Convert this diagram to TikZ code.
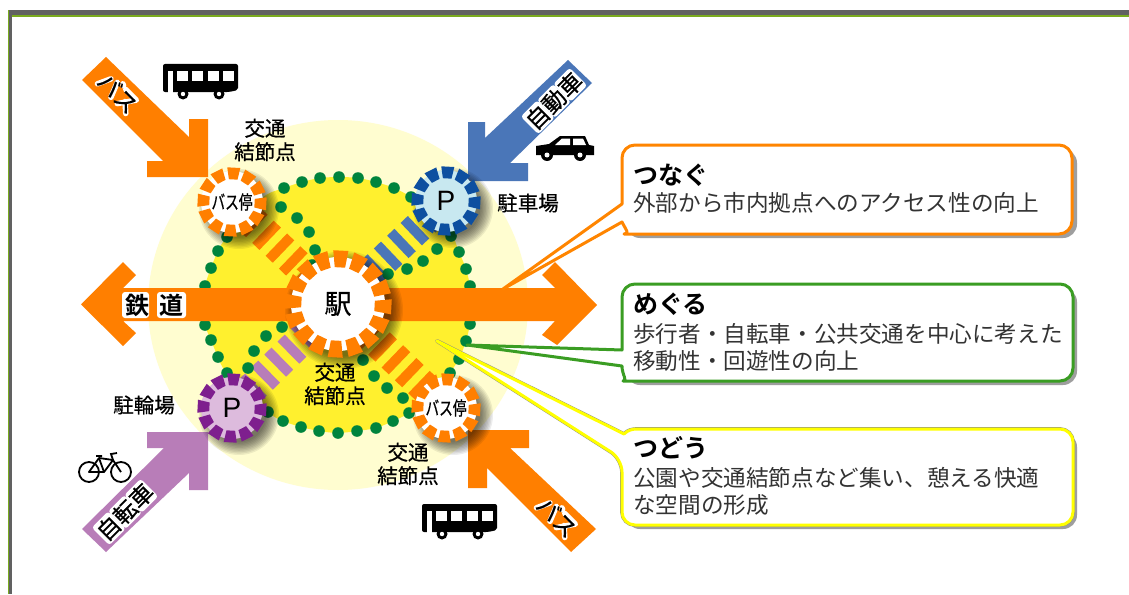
\documentclass[tikz,border=0pt]{standalone}
\usepackage{fontspec}
\setmainfont{Noto Sans CJK JP}
\newfontfamily\jpm[FakeBold=0.6]{Noto Sans CJK JP}
\newfontfamily\jpb{Noto Sans CJK JP Bold}
\newfontfamily\latin{Liberation Sans}
\usetikzlibrary{calc}
\definecolor{aorange}{HTML}{FF7F00}
\definecolor{ablue}{HTML}{4A76B8}
\definecolor{apurple}{HTML}{B87DB8}
\definecolor{dblue}{HTML}{0D4FA0}
\definecolor{dpurple}{HTML}{7E1F8E}
\definecolor{lblue}{HTML}{C8E8F0}
\definecolor{lpurple}{HTML}{DDBBDD}
\definecolor{agreen}{HTML}{00843D}
\definecolor{bgreen}{HTML}{3A9D23}
\definecolor{pale}{HTML}{FFFDD0}
\definecolor{blob}{HTML}{FFF02E}
\definecolor{cyel}{HTML}{FFFF00}
\definecolor{fgreen}{HTML}{7AAB1E}
\newcommand{\softshadow}[3]{% centre name, radius, offset
  \foreach \k in {0,...,9}{
    \fill[black,opacity=0.07] ($(#1)+(#3,#3)$) circle ({#2+7-1.4*\k});
  }}
\newcommand{\ring}[7]{% centre,Rin,Rout,count,colour,offset,half gap
  \pgfmathsetmacro{\stepa}{360/#4}
  \pgfmathsetmacro{\halfa}{\stepa/2-#7}
  \foreach \k in {1,...,#4}{
    \pgfmathsetmacro{\aa}{#6+\k*\stepa}
    \fill[#5] ($(#1)+(\aa-\halfa:#2)$) -- ($(#1)+(\aa-\halfa:#3)$) -- ($(#1)+(\aa+\halfa:#3)$) -- ($(#1)+(\aa+\halfa:#2)$) -- cycle;
  }}
\tikzset{
  lab/.style={align=center,inner sep=0pt,font=\fontsize{20.5}{23.5}\jpm},
  diskbig/.style={circle,fill=white,inner sep=0pt,minimum size=94pt,font=\fontsize{27}{27}\jpm},
  disksmall/.style={circle,inner sep=0pt,minimum size=62pt},
  stripes/.style={line width=31pt},
  tdot/.style={fill=agreen},
  plate/.style={fill=white,rounded corners=3pt},
  halo/.style={draw=white,line width=5.5pt,line cap=round,line join=round},
  arrowtext/.style={inner sep=0pt,font=\fontsize{23}{23}\jpm},
  heading/.style={anchor=west,inner sep=0pt,font=\fontsize{25}{25}\jpb},
  desc/.style={anchor=west,inner sep=0pt,align=left,text=black!80,font=\fontsize{22.6}{27}\selectfont},
  callout/.style={fill=white,line width=3pt,line join=round},
  cshadow/.style={fill=black!38,rounded corners=14pt},
  busicon/.pic={
    \fill[black,rounded corners=2pt] (0,0) -- (75,0) -- (75,26) -- (66,28) -- (0,28) -- cycle;
    \fill[white] (5,6.5) rectangle (10,28.5);
    \foreach \wx in {14,29,45,60}{\fill[white] (\wx,7) rectangle ++(11,10);}
    \foreach \wx in {20,56}{\fill[black] (\wx,30) circle (5.5pt); \fill[white] (\wx,30) circle (2.2pt);}
  },
  carline/.style={black,line width=1.8pt}
}
\begin{document}
\begin{tikzpicture}[x=1pt,y=-1pt]
\useasboundingbox (0,0) rectangle (1129,594);
% frame
\fill[white] (0,0) rectangle (1129,594);
\fill[black!62] (9,10) rectangle (1129,15);
\fill[black!62] (9,10) rectangle (12,594);
\fill[fgreen] (12,15) rectangle (1129,17.5);
\fill[fgreen] (7.5,10) rectangle (9,594);
% named places
\coordinate (st) at (338,304);
\coordinate (tl) at (232,202);
\coordinate (tr) at (446,201);
\coordinate (bl) at (232,408);
\coordinate (br) at (446,408);
% area
\fill[pale] (338,305) ellipse (190 and 185);
\fill[blob] plot[smooth cycle,tension=0.5] coordinates {(262,198)(284,188)(302,182)(320,178)(339,177)(358,178)(376,182)(394,188)(411,197)(445,220)(459,252)(466,269)(470,286)(472,305)(470,324)(466,341)(459,359)(450,373)(440,390)(409,413)(393,421)(376,428)(357,431)(338,433)(319,431)(301,427)(283,421)(268,412)(227,373)(218,357)(211,340)(205,325)(204,305)(205,286)(211,268)(218,251)(227,237)};
% hatched links
\draw[stripes,aorange,dash pattern=on 10pt off 8.5pt,dash phase=12.5pt] (tl) -- (st);
\draw[stripes,ablue,dash pattern=on 10pt off 8.5pt,dash phase=17.5pt] (tr) -- (st);
\draw[stripes,apurple,dash pattern=on 10pt off 8.5pt,dash phase=13.5pt] (bl) -- (st);
\draw[stripes,aorange,dash pattern=on 10pt off 8.5pt,dash phase=9.5pt] (br) -- (st);
% green dots
\foreach \p in {(284,188),(302,182),(320,178),(339,177),(358,178),(376,182),(394,188),(411,197),
 (281,207),(297,218),(309,232),(315,250),(312,265),
 (227,237),(218,251),(211,268),(205,286),(205,325),(211,340),(218,357),(227,373),
 (282,327),(266,336),(254,351),(248,368),
 (268,412),(283,421),(301,427),(319,431),(338,433),(357,431),(376,428),(393,421),(409,413),
 (363,360),(374,376),(387,388),(403,398),
 (470,324),(466,341),(459,359),(450,373),
 (388,274),(407,269),(423,261),(437,249),(451,236),(459,252),(466,269),(470,286)}
 {\fill[tdot] \p circle (5.8pt);}
% arrows
\fill[aorange] (81,304.5) -- (123,262) -- (136,275) -- (123,288) -- (555,288) -- (542,275) -- (555,262) -- (597,305) -- (557,345) -- (542,335) -- (555,321) -- (123,321) -- (136,333) -- (123,346) -- cycle;
\fill[aorange] (106,57) -- (189,137) -- (189,119) -- (208,119) -- (208,177) -- (147,177) -- (147,161) -- (163,161) -- (82,80) -- cycle;
\fill[ablue] (568,60) -- (485,138) -- (485,122) -- (468,122) -- (468,181) -- (528,181) -- (528,163) -- (510,163) -- (592,83) -- cycle;
\fill[apurple] (82,529) -- (164,448) -- (147,448) -- (147,432) -- (208,432) -- (208,490) -- (189,490) -- (189,473) -- (106,552) -- cycle;
\fill[aorange] (468,430) -- (529,430) -- (529,448) -- (510,448) -- (596,529) -- (571,552) -- (487,468) -- (487,488) -- (468,488) -- cycle;
% shadows
\softshadow{st}{52}{6}
\softshadow{tl}{33}{7}
\softshadow{tr}{33}{7}
\softshadow{bl}{33}{7}
\softshadow{br}{33}{7}
% nodes
\node[diskbig] (station) at (st) {駅};
\ring{st}{37}{54}{16}{aorange}{3}{3.2}
\node[disksmall,fill=white] (stopa) at (tl) {\fontsize{19}{19}\jpm\scalebox{0.72}[1]{バス停}};
\ring{tl}{23}{35}{12}{aorange}{3}{4.2}
\node[disksmall,fill=white] (stopb) at (br) {\fontsize{19}{19}\jpm\scalebox{0.72}[1]{バス停}};
\ring{br}{23}{35}{12}{aorange}{3}{4.2}
\node[disksmall,fill=lblue] (parka) at (tr) {\fontsize{28}{28}\latin P};
\ring{tr}{23}{35}{12}{dblue}{3}{4.2}
\node[disksmall,fill=lpurple] (parkb) at (bl) {\fontsize{28}{28}\latin P};
\ring{bl}{23}{35}{12}{dpurple}{3}{4.2}
% labels
\node[lab] (la) at (265,140) {交通\\結節点};
\node[lab] (lb) at (335,384) {交通\\結節点};
\node[lab] (lc) at (408,464) {交通\\結節点};
\node[lab] (lp1) at (528,203) {駐車場};
\node[lab] (lp2) at (144,405) {駐輪場};
% labels on arrows, on white halos
\fill[plate] (122,292) rectangle (149,318);
\fill[plate] (157,292) rectangle (186,318);
\node[inner sep=0pt,font=\fontsize{24}{24}\jpb] (rail) at (154.5,305) {鉄\hspace{10pt}道};
\begin{scope}[shift={(118,93)},rotate=-45]
  \draw[halo] (-15,-5) -- (-21,8) (-8,-7) -- (-2,8) (-3,-10) -- (-1,-9);
  \draw[halo] (3,-8) -- (18,-8) -- (7,8) (11,1) -- (20,9);
\end{scope}
\node[arrowtext,rotate=-45] (abus) at (118,93) {バス};
\begin{scope}[shift={(557,517)},rotate=-45]
  \draw[halo] (-15,-5) -- (-21,8) (-8,-7) -- (-2,8) (-3,-10) -- (-1,-9);
  \draw[halo] (3,-8) -- (18,-8) -- (7,8) (11,1) -- (20,9);
\end{scope}
\node[arrowtext,rotate=-45] (abusb) at (557,517) {バス};
\begin{scope}[shift={(554,101)},rotate=45]
  \foreach \cx in {-23,0,23}{\fill[plate] (\cx-11.5,-12.5) rectangle (\cx+11.5,12.5);}
\end{scope}
\node[inner sep=0pt,rotate=45,font=\fontsize{23}{23}\jpm] (acar) at (554,101) {自動車};
\begin{scope}[shift={(125,512)},rotate=45]
  \foreach \cx in {-23,0,23}{\fill[plate] (\cx-11.5,-12.5) rectangle (\cx+11.5,12.5);}
\end{scope}
\node[inner sep=0pt,rotate=45,font=\fontsize{23}{23}\jpm] (abike) at (125,512) {自転車};
% icons
\pic at (163,64) {busicon};
\pic at (422,504) {busicon};
% car
\fill[black] (536,146) -- (549,144) -- (560,136) -- (585,136) -- (589,145) -- (594,146) -- (594,155) -- (536,155) -- cycle;
\fill[white] (555,145) -- (562,138.5) -- (570,138.5) -- (570,145) -- cycle;
\fill[white] (573,138.5) -- (583,138.5) -- (586,145) -- (573,145) -- cycle;
\foreach \cx in {547,580}{\fill[black] (\cx,155) circle (6pt); \fill[white] (\cx,155) circle (2.5pt);}
% bicycle
\draw[carline] (89,472) circle (10pt);
\draw[carline] (121,472) circle (10pt);
\draw[carline,line join=round] (89,472) -- (99,458) -- (113,460) -- (104,472) -- cycle;
\draw[carline] (99,458) -- (104,472) (113,460) -- (121,472) (113,460) -- (111,454) -- (117,453) (96,456) -- (102,456);
% callouts
\coordinate (tipa) at (503,289);
\coordinate (tipb) at (467,345);
\coordinate (tipc) at (437,341);
\fill[cshadow] (626,149) rectangle (1077,238);
\path[callout,draw=aorange!95!yellow] (tipa) -- (622,204) [rounded corners=13pt] -- (622,145) -- (1072,145) -- (1072,234) -- (637,234) [sharp corners] .. controls (630,234) and (626,230) .. (622,222) -- cycle;
\fill[cshadow] (626,288) rectangle (1077,385);
\path[callout,draw=bgreen] (tipb) -- (622,350) [rounded corners=13pt] -- (622,284) -- (1073,284) -- (1073,381) -- (636,381) [sharp corners] .. controls (628,381) and (622,375) .. (622,366) -- cycle;
\fill[cshadow] (626,433) rectangle (1077,529);
\path[draw=black!45,fill=white,line width=3.8pt,line join=round] (tipc) -- (624,434) .. controls (628,430) and (632,429) .. (638,429) [rounded corners=13pt] -- (1073,429) -- (1073,525) -- (622,525) -- (622,459) [sharp corners] -- cycle;
\path[callout,draw=cyel] (tipc) -- (624,434) .. controls (628,430) and (632,429) .. (638,429) [rounded corners=13pt] -- (1073,429) -- (1073,525) -- (622,525) -- (622,459) [sharp corners] -- cycle;
\node[heading] (ha) at (633,175) {つなぐ};
\node[desc] (da) at (633,203) {外部から市内拠点へのアクセス性の向上};
\node[heading] (hb) at (633,304) {めぐる};
\node[desc] (db) at (633,347) {歩行者・自転車・公共交通を中心に考えた\\移動性・回遊性の向上};
\node[heading] (hc) at (633,448) {つどう};
\node[desc] (dc) at (633,491) {公園や交通結節点など集い、憩える快適\\な空間の形成};
\end{tikzpicture}
\end{document}
